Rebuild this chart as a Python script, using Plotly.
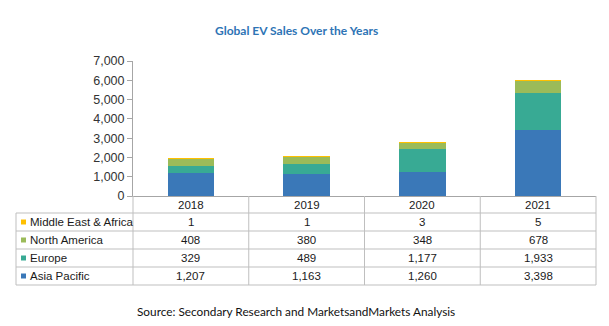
import plotly.graph_objects as go

# Global EV sales (thousand units) by region
years = ["2018", "2019", "2020", "2021"]
regions = ["Asia Pacific", "Europe", "North America", "Middle East & Africa"]
asia_pacific = [1207, 1163, 1260, 3398]
europe = [329, 489, 1177, 1933]
north_america = [408, 380, 348, 678]
middle_east_africa = [1, 1, 3, 5]
colors = ["#3A78B8", "#38AA94", "#9BBB59", "#FFC000"]
y_ticks = [0, 1000, 2000, 3000, 4000, 5000, 6000, 7000]

series = [asia_pacific, europe, north_america, middle_east_africa]

W, H = 609, 326
ML, MR, MT, MB = 133, 13, 61, 130
PW, PH = W - ML - MR, H - MT - MB
X_RANGE = [-0.5, len(years) - 0.5]


def px_x(px):
    return (px - ML) / PW


def px_y(py):
    return (H - MB - py) / PH


def cat_x(k):
    # category position -> paper fraction along the x axis
    return (k - X_RANGE[0]) / (X_RANGE[1] - X_RANGE[0])


fig = go.Figure()
for name, vals, col in zip(regions, series, colors):
    fig.add_bar(x=years, y=vals, name=name, marker_color=col,
                marker_line_width=0, width=0.4)

grid_col = "#BFBFBF"
font_tbl = dict(family="Liberation Sans, Arial", size=11.5, color="#1A1A1A")

shapes = []
annotations = []

# table geometry (rows from top: header, then regions reversed)
row_h = 18
header_top = H - MB
header_bot = header_top + 17
n_rows = len(regions)
row_tops = [header_bot + i * row_h for i in range(n_rows)]
table_bot = header_bot + n_rows * row_h
legend_left = 16

# vertical column lines (category boundaries)
for k in range(len(years) + 1):
    xx = cat_x(k - 0.5)
    shapes.append(dict(type="line", xref="paper", yref="paper",
                       x0=xx, x1=xx,
                       y0=px_y(header_top), y1=px_y(table_bot),
                       line=dict(color=grid_col, width=1)))
# legend column left edge
shapes.append(dict(type="line", xref="paper", yref="paper",
                   x0=px_x(legend_left), x1=px_x(legend_left),
                   y0=px_y(header_bot), y1=px_y(table_bot),
                   line=dict(color=grid_col, width=1)))
# horizontal row lines
for i in range(n_rows + 1):
    yy = px_y(header_bot + i * row_h)
    shapes.append(dict(type="line", xref="paper", yref="paper",
                       x0=px_x(legend_left), x1=1, y0=yy, y1=yy,
                       line=dict(color=grid_col, width=1)))

# header years
for j, yr in enumerate(years):
    annotations.append(dict(x=cat_x(j), xref="paper", yref="paper",
                            y=px_y((header_top + header_bot) / 2 + 0.5),
                            text=yr, showarrow=False, font=font_tbl,
                            xanchor="center", yanchor="middle"))

# rows: top row is last region (stack order reversed)
for i, ridx in enumerate(reversed(range(n_rows))):
    yc = px_y(row_tops[i] + row_h / 2)
    shapes.append(dict(type="rect", xref="paper", yref="paper",
                       x0=px_x(21), x1=px_x(26),
                       y0=yc - 2.5 / PH, y1=yc + 2.5 / PH,
                       fillcolor=colors[ridx], line=dict(width=0)))
    annotations.append(dict(x=px_x(28), xref="paper", yref="paper", y=yc,
                            text=regions[ridx], showarrow=False,
                            font=font_tbl, xanchor="left", yanchor="middle"))
    for j, yr in enumerate(years):
        annotations.append(dict(x=cat_x(j), xref="paper", yref="paper", y=yc,
                                text=f"{series[ridx][j]:,}", showarrow=False,
                                font=font_tbl, xanchor="center",
                                yanchor="middle"))

# title and source
annotations.append(dict(x=px_x(296), y=px_y(30), xref="paper", yref="paper",
                        text="<b>Global EV Sales Over the Years</b>",
                        showarrow=False,
                        font=dict(family="Lato, Open Sans", size=12,
                                  color="#2E74B5"),
                        xanchor="center", yanchor="middle"))
annotations.append(dict(x=px_x(296), y=px_y(311), xref="paper", yref="paper",
                        text="Source: Secondary Research and MarketsandMarkets Analysis",
                        showarrow=False,
                        font=dict(family="Lato, Open Sans", size=11.8,
                                  color="#111111"),
                        xanchor="center", yanchor="middle"))

fig.update_layout(
    width=W, height=H, barmode="stack", showlegend=False,
    margin=dict(l=ML, r=MR, t=MT, b=MB),
    plot_bgcolor="white", paper_bgcolor="white",
    shapes=shapes, annotations=annotations,
    xaxis=dict(range=X_RANGE, showticklabels=False, ticks="",
               showline=True, linecolor="#A6A6A6", linewidth=1,
               showgrid=False, zeroline=False, fixedrange=True),
    yaxis=dict(range=[0, 7000], tickvals=y_ticks, tickformat=",",
               ticks="outside", ticklen=5, tickcolor="#A6A6A6",
               showline=True, linecolor="#A6A6A6", linewidth=1,
               showgrid=False, zeroline=False,
               tickfont=dict(family="Liberation Sans, Arial", size=12.5,
                             color="#333333")),
)

fig.write_html("out.html")
